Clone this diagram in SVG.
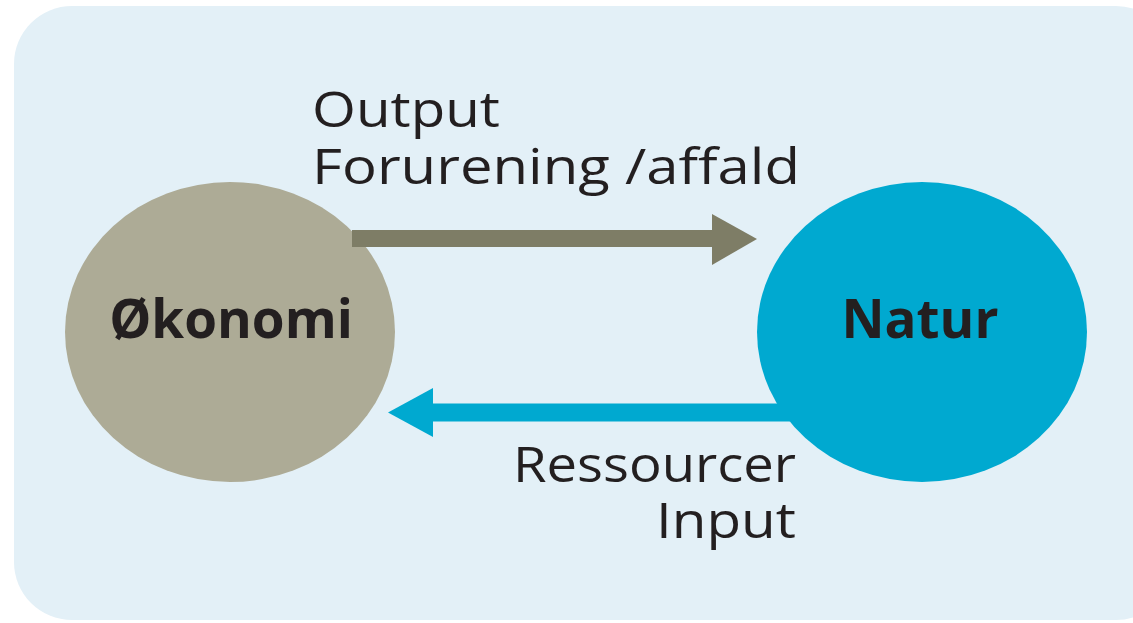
<svg xmlns="http://www.w3.org/2000/svg" width="1133" height="623" viewBox="0 0 1133 623">
<style>
.lbl{font-family:"Open Sans","Noto Sans",sans-serif;font-size:50px;font-weight:500;fill:#231f20}
.node{font-family:"Open Sans","Noto Sans",sans-serif;font-size:53px;font-weight:bold;fill:#231f20;text-anchor:middle}
</style>
<rect x="0" y="0" width="1133" height="623" fill="#ffffff"/>
<rect id="panel" x="14" y="6" width="1160" height="614" rx="58" ry="58" fill="#e3f0f7"/>
<g id="okonomi">
<ellipse cx="230" cy="332" rx="165" ry="150" fill="#adab96"/>
<text class="node" x="231" y="338">Økonomi</text>
</g>
<g id="natur">
<ellipse cx="922" cy="332" rx="165" ry="150" fill="#00a9d0"/>
<text class="node" x="920" y="338">Natur</text>
</g>
<g id="connectors">
<line x1="352" y1="238.5" x2="714" y2="238.5" stroke="#7e7d66" stroke-width="17"/>
<polygon points="712,214 757,239 712,265" fill="#7e7d66"/>
<line x1="431" y1="412.5" x2="790" y2="412.5" stroke="#00a9d0" stroke-width="18"/>
<polygon points="433,388 388,412.5 433,437" fill="#00a9d0"/>
</g>
<g id="labels">
<text class="lbl" x="312" y="127" textLength="188" lengthAdjust="spacingAndGlyphs">Output</text>
<text class="lbl" x="312" y="184" textLength="488" lengthAdjust="spacingAndGlyphs">Forurening /affald</text>
<text class="lbl" x="513" y="482" textLength="283" lengthAdjust="spacingAndGlyphs">Ressourcer</text>
<text class="lbl" x="656" y="538" textLength="140" lengthAdjust="spacingAndGlyphs">Input</text>
</g>
</svg>
